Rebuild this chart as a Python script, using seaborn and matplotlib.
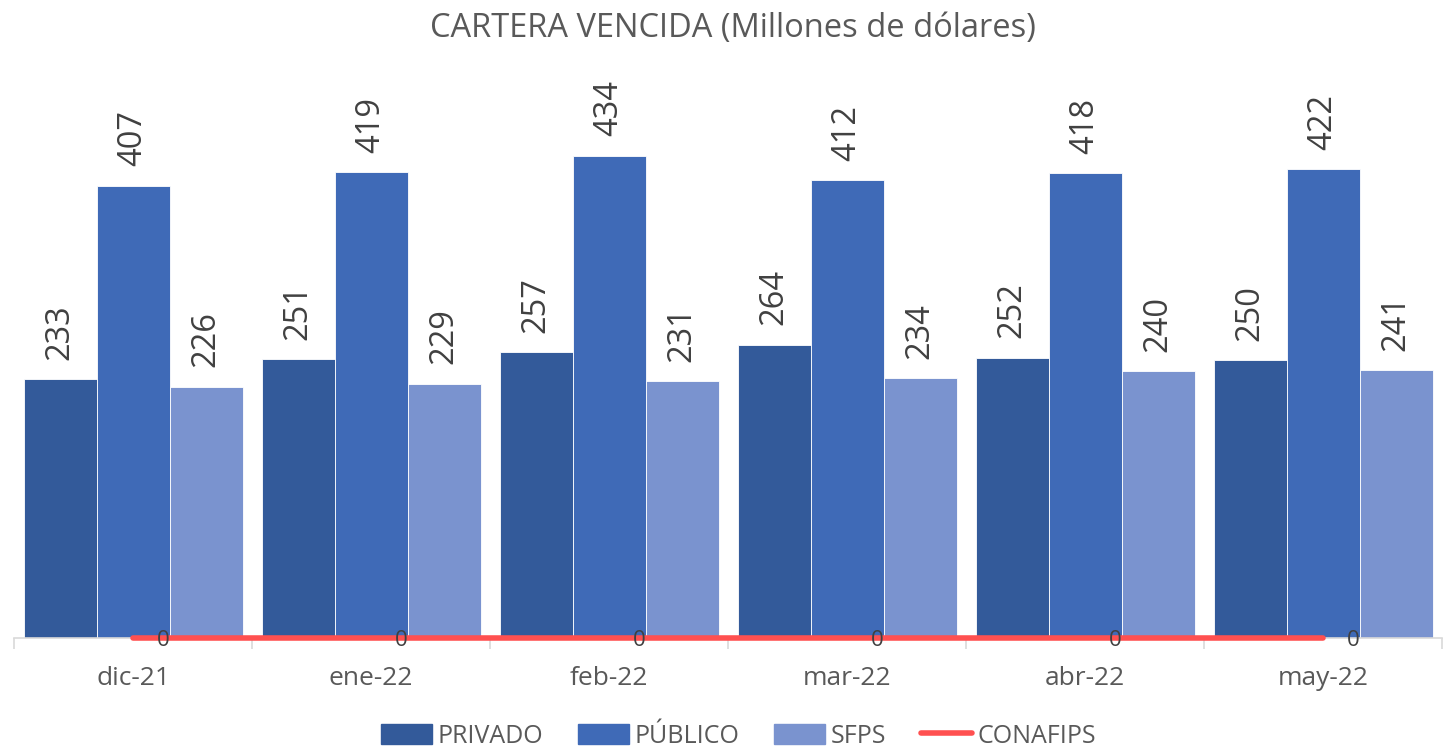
import numpy as np
import pandas as pd
import matplotlib.pyplot as plt
import seaborn as sns

months = ['dic-21', 'ene-22', 'feb-22', 'mar-22', 'abr-22', 'may-22']
privado = [233, 251, 257, 264, 252, 250]
publico = [407, 419, 434, 412, 418, 422]
sfps = [226, 229, 231, 234, 240, 241]
conafips = [0, 0, 0, 0, 0, 0]

series = ['PRIVADO', 'PÚBLICO', 'SFPS']
colors = ['#335A9A', '#3F6AB7', '#7A93CF']
text_color = '#595959'

df = pd.DataFrame({
    'mes': months * 3,
    'serie': [s for s in series for _ in months],
    'valor': privado + publico + sfps,
})

sns.set_style('white')
plt.rcParams['font.family'] = ['Open Sans', 'DejaVu Sans']

fig = plt.figure(figsize=(14.45, 7.48), dpi=100)
ax = fig.add_axes([0.0097, 0.147, 0.9883, 0.743])

sns.barplot(data=df, x='mes', y='valor', hue='serie', order=months,
            hue_order=series, palette=colors, width=0.92, gap=0,
            saturation=1, edgecolor='white', linewidth=0.6, ax=ax, legend=False)

for cont in ax.containers:
    ax.bar_label(cont, fmt='%d', rotation=90, padding=14, fontsize=23.5,
                 color='#404040')

x = np.arange(len(months))
sns.lineplot(x=x, y=conafips, color='#FF5050', linewidth=4, ax=ax,
             clip_on=False, zorder=5)
for xi, v in zip(x, conafips):
    ax.annotate(f'{v}', (xi, v), xytext=(17, -2), textcoords='offset points',
                ha='left', va='center', fontsize=16, color='#404040', zorder=6)

ax.set_ylim(0, 500)
ax.set_xlim(-0.5, len(months) - 0.5)
ax.set_yticks([])
ax.set_xlabel('')
ax.set_ylabel('')
for side in ['top', 'right', 'left']:
    ax.spines[side].set_visible(False)
ax.spines['bottom'].set_color('#D9D9D9')
ax.spines['bottom'].set_linewidth(1.2)
ax.set_xticks(np.arange(len(months) + 1) - 0.5, minor=True)
ax.tick_params(axis='x', which='minor', length=8, color='#D9D9D9', width=1.2,
               bottom=True)
ax.tick_params(axis='x', which='major', length=0, pad=20, labelsize=19,
               labelcolor=text_color)

fig.text(0.507, 0.962, 'CARTERA VENCIDA (Millones de dólares)', ha='center',
         va='center', fontsize=23.5, color=text_color)

handles = [plt.Rectangle((0, 0), 1, 1, color=c) for c in colors]
handles.append(plt.Line2D([0], [0], color='#FF5050', linewidth=4,
                          solid_capstyle='round'))
fig.legend(handles, series + ['CONAFIPS'], loc='center',
           bbox_to_anchor=(0.511, 0.016), ncol=4, frameon=False, fontsize=18,
           labelcolor=text_color, handlelength=2.05, handleheight=0.9,
           handletextpad=0.2, columnspacing=1.4)

fig.savefig('out.png', dpi=100)
